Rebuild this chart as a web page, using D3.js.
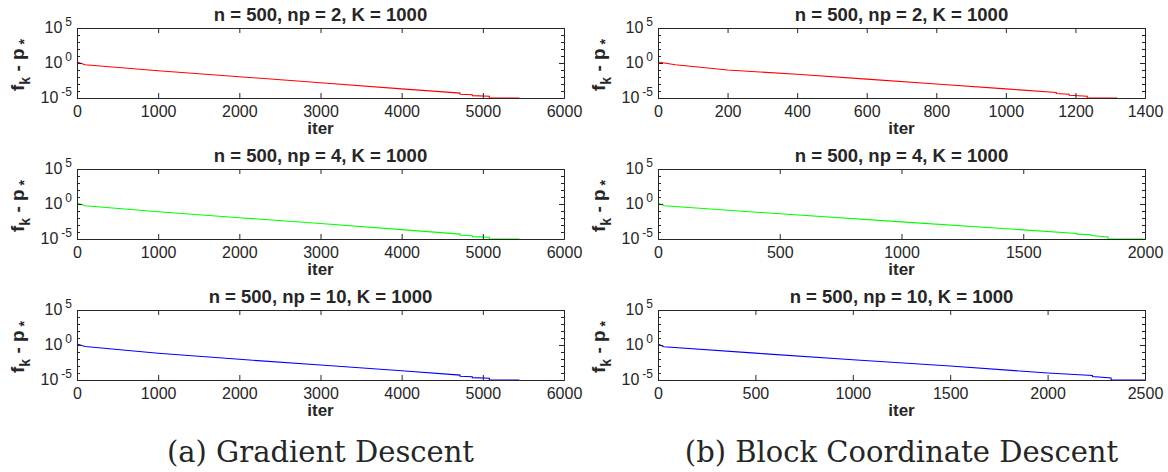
<!DOCTYPE html>
<html>
<head>
<meta charset="utf-8">
<script src="https://cdn.jsdelivr.net/npm/d3@7"></script>
<style>
  html, body { margin: 0; padding: 0; background: #fff; }
  svg { display: block; }
  text { font-family: "Liberation Sans", Arial, sans-serif; fill: #262626; }
</style>
</head>
<body>
<svg id="chart" width="1168" height="472"></svg>
<script>
// ---------------- data ----------------
const titles = ["n = 500, np = 2, K = 1000", "n = 500, np = 4, K = 1000", "n = 500, np = 10, K = 1000"];
const captions = ["(a) Gradient Descent", "(b) Block Coordinate Descent"];
const yLabelMain = "f";
const xLabel = "iter";
const colors = ["#ff0000", "#00ff00", "#0000ff"];

const gdXTicks = [0, 1000, 2000, 3000, 4000, 5000, 6000];
const bcdXTicks2 = [0, 200, 400, 600, 800, 1000, 1200, 1400];
const bcdXTicks4 = [0, 500, 1000, 1500, 2000];
const bcdXTicks10 = [0, 500, 1000, 1500, 2000, 2500];
const yMajorExp = [-5, 0, 5];

// Gradient descent, np = 2
const gd2Iter = [0, 100, 1000, 2000, 3000, 4000, 4720, 4720, 4870, 4870, 5080, 5080, 5450];
const gd2Val  = [1.41, 0.56, 0.079, 0.011, 0.0015, 2.0e-4, 5.0e-5, 3.5e-5, 3.0e-5, 2.2e-5, 1.8e-5, 1.0e-5, 1.0e-5];
// Gradient descent, np = 4
const gd4Iter = [0, 100, 1000, 2000, 3000, 4000, 4720, 4720, 4870, 4870, 5080, 5080, 5450];
const gd4Val  = [1.41, 0.56, 0.079, 0.011, 0.0016, 2.2e-4, 5.0e-5, 3.5e-5, 3.0e-5, 2.2e-5, 1.8e-5, 1.0e-5, 1.0e-5];
// Gradient descent, np = 10
const gd10Iter = [0, 100, 1000, 2000, 3000, 4000, 4720, 4720, 4870, 4870, 5080, 5080, 5450];
const gd10Val  = [1.41, 0.6, 0.065, 0.009, 0.0014, 2.1e-4, 5.0e-5, 3.5e-5, 3.0e-5, 2.2e-5, 1.8e-5, 1.0e-5, 1.0e-5];

// Block coordinate descent, np = 2
const bcd2Iter = [0, 50, 200, 400, 600, 800, 1000, 1145, 1145, 1182, 1182, 1234, 1234, 1320];
const bcd2Val  = [1.41, 0.56, 0.1, 0.025, 0.005, 0.001, 2.0e-4, 6.3e-5, 4.5e-5, 3.5e-5, 2.5e-5, 1.8e-5, 1.0e-5, 1.0e-5];
// Block coordinate descent, np = 4
const bcd4Iter = [0, 25, 500, 1000, 1500, 1721, 1721, 1779, 1779, 1848, 1848, 2000];
const bcd4Val  = [1.41, 0.56, 0.04, 0.0028, 2.0e-4, 6.0e-5, 5.0e-5, 4.0e-5, 3.2e-5, 2.0e-5, 1.0e-5, 1.0e-5];
// Block coordinate descent, np = 10
const bcd10Iter = [0, 30, 500, 1000, 1500, 2000, 2230, 2230, 2326, 2326, 2500];
const bcd10Val  = [1.41, 0.56, 0.068, 0.008, 0.001, 1.0e-4, 4.5e-5, 3.2e-5, 2.0e-5, 1.0e-5, 1.0e-5];

// ---------------- layout ----------------
const svg = d3.select("#chart");
const colLeft = [77, 658];
const plotW = 487;
const rowTop = [28, 169, 310];
const plotH = 70;

const panels = [
  { col: 0, row: 0, iter: gd2Iter, val: gd2Val, ticks: gdXTicks },
  { col: 0, row: 1, iter: gd4Iter, val: gd4Val, ticks: gdXTicks },
  { col: 0, row: 2, iter: gd10Iter, val: gd10Val, ticks: gdXTicks },
  { col: 1, row: 0, iter: bcd2Iter, val: bcd2Val, ticks: bcdXTicks2 },
  { col: 1, row: 1, iter: bcd4Iter, val: bcd4Val, ticks: bcdXTicks4 },
  { col: 1, row: 2, iter: bcd10Iter, val: bcd10Val, ticks: bcdXTicks10 }
];

const axisColor = "#262626";
const minorExp = d3.range(-5, 6);

panels.forEach(p => {
  const x0 = colLeft[p.col], y0 = rowTop[p.row];
  const g = svg.append("g").attr("transform", `translate(${x0},${y0})`);
  const xs = d3.scaleLinear().domain([0, p.ticks[p.ticks.length - 1]]).range([0, plotW]);
  const ys = d3.scaleLog().domain([1e-5, 1e5]).range([plotH, 0]);

  // data line
  const pts = p.iter.map((it, i) => [it, p.val[i]]);
  const line = d3.line().x(d => xs(d[0])).y(d => ys(d[1]));
  g.append("path").datum(pts)
    .attr("d", line)
    .attr("fill", "none")
    .attr("stroke", colors[p.row])
    .attr("stroke-width", 1.1);

  // bottom axis
  const xb = g.append("g").attr("transform", `translate(0,${plotH})`)
    .call(d3.axisBottom(xs).tickValues(p.ticks).tickSize(-5).tickSizeOuter(0).tickPadding(8).tickFormat(d3.format("d")));
  // top axis (no labels)
  const xt = g.append("g")
    .call(d3.axisTop(xs).tickValues(p.ticks).tickSize(-5).tickSizeOuter(0).tickFormat(""));
  // left / right axes with minor ticks
  const yl = g.append("g")
    .call(d3.axisLeft(ys).tickValues(minorExp.map(e => Math.pow(10, e))).tickSize(-3).tickSizeOuter(0).tickFormat(""));
  const yr = g.append("g").attr("transform", `translate(${plotW},0)`)
    .call(d3.axisRight(ys).tickValues(minorExp.map(e => Math.pow(10, e))).tickSize(-3).tickSizeOuter(0).tickFormat(""));
  const ylM = g.append("g")
    .call(d3.axisLeft(ys).tickValues(yMajorExp.map(e => Math.pow(10, e))).tickSize(-5).tickSizeOuter(0).tickFormat(""));
  const yrM = g.append("g").attr("transform", `translate(${plotW},0)`)
    .call(d3.axisRight(ys).tickValues(yMajorExp.map(e => Math.pow(10, e))).tickSize(-5).tickSizeOuter(0).tickFormat(""));

  [xb, xt, yl, yr, ylM, yrM].forEach(a => {
    a.selectAll("path.domain").attr("stroke", axisColor);
    a.selectAll("line").attr("stroke", axisColor);
  });
  xb.selectAll("text").attr("font-size", 16).attr("fill", axisColor)
    .style("font-family", "Liberation Sans, Arial, sans-serif");

  // y major tick labels 10^e
  yMajorExp.forEach(e => {
    const t = g.append("text")
      .attr("x", -5).attr("y", ys(Math.pow(10, e)) + 5)
      .attr("text-anchor", "end")
      .attr("font-size", 16);
    t.append("tspan").text("10");
    t.append("tspan").attr("dx", 3).attr("dy", -7).attr("font-size", 12).text(String(e));
  });

  // title
  g.append("text")
    .attr("x", plotW / 2).attr("y", -7)
    .attr("text-anchor", "middle")
    .attr("font-size", 18.5).attr("font-weight", "bold")
    .attr("fill", "#000")
    .text(titles[p.row]);

  // x label
  g.append("text")
    .attr("x", plotW / 2).attr("y", plotH + 36)
    .attr("text-anchor", "middle")
    .attr("font-size", 17).attr("font-weight", "bold")
    .attr("fill", "#000")
    .text(xLabel);

  // y label f_k - p_*
  const yl2 = g.append("text")
    .attr("transform", `translate(${-53},${plotH / 2 + 2}) rotate(-90)`)
    .attr("text-anchor", "middle")
    .attr("font-size", 19).attr("font-weight", "bold")
    .attr("fill", "#000");
  yl2.append("tspan").text(yLabelMain);
  yl2.append("tspan").attr("dy", 6).attr("font-size", 14).text("k");
  yl2.append("tspan").attr("dy", -6).text(" - p");
  yl2.append("tspan").attr("dy", 5).attr("font-size", 14).text(" *");
});

// captions
captions.forEach((c, i) => {
  svg.append("text")
    .attr("x", colLeft[i] + plotW / 2).attr("y", 462)
    .attr("text-anchor", "middle")
    .attr("font-size", 29)
    .style("font-family", "'DejaVu Serif', 'Liberation Serif', serif")
    .attr("fill", "#000")
    .text(c);
});
</script>
</body>
</html>
